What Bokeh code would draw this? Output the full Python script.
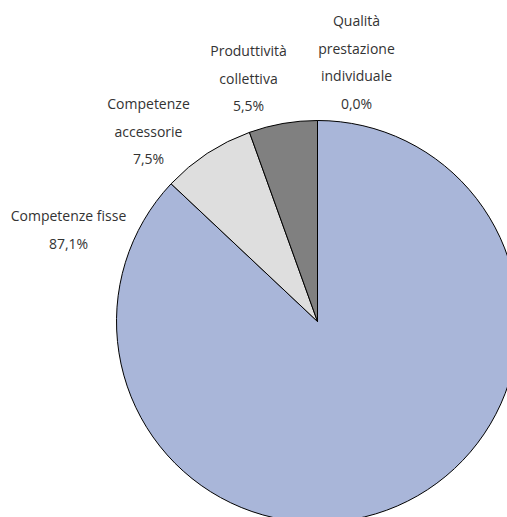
import math
from bokeh.plotting import figure
from bokeh.models import Range1d
from bokeh.core.properties import value
from bokeh.embed import file_html
from bokeh.resources import INLINE

# ---- data ----
categories = ["Competenze fisse", "Competenze accessorie", "Produttività collettiva", "Qualità prestazione individuale"]
label_lines = [["Competenze fisse"], ["Competenze", "accessorie"], ["Produttività", "collettiva"], ["Qualità", "prestazione", "individuale"]]
shares = [87.1, 7.5, 5.5, 0.0]
share_labels = ["87,1%", "7,5%", "5,5%", "0,0%"]
colors = ["#A9B6D9", "#DEDEDE", "#808080", "#4F6FB0"]

# ---- layout (pixels) ----
W, H = 507, 517
cx, cy_px, R = 317, 321, 201
label_anchor = [(68, 215), (148, 103), (248, 50), (356, 20)]  # centre x, first-line centre y
LINE = 27.7

p = figure(width=W, height=H, output_backend="svg", toolbar_location=None,
           x_range=Range1d(0, W), y_range=Range1d(0, H), min_border=0)
p.axis.visible = False
p.grid.visible = False
p.outline_line_color = None
p.background_fill_color = "white"

total = sum(shares)
starts, ends = [], []
a = math.pi / 2
for s in shares:
    starts.append(a)
    a = a - s / total * 2 * math.pi
    ends.append(a)

for i in range(len(shares)):
    if shares[i] <= 0:
        continue
    p.wedge(x=cx, y=H - cy_px, radius=R, start_angle=starts[i], end_angle=ends[i],
            direction="clock", fill_color=colors[i], line_color="black", line_width=1)

xs, ys, txt = [], [], []
for i in range(len(categories)):
    lx, ly = label_anchor[i]
    lines = label_lines[i] + [share_labels[i]]
    for j, t in enumerate(lines):
        xs.append(lx)
        ys.append(H - (ly + j * LINE))
        txt.append(t)
p.text(x=xs, y=ys, text=txt, text_align="center", text_baseline="middle",
       text_font=value("Open Sans"), text_font_size="14px", text_color="#333333")

open("out.html", "w").write(file_html(p, INLINE))
